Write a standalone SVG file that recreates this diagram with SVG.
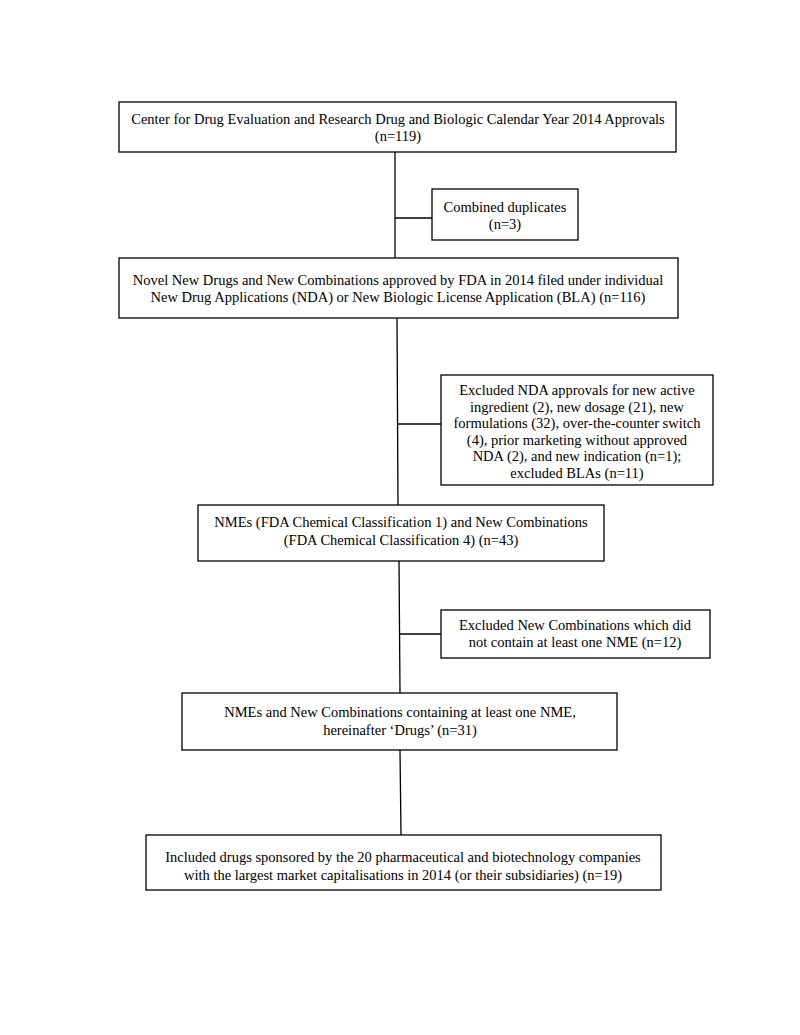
<svg xmlns="http://www.w3.org/2000/svg" width="800" height="1035" viewBox="0 0 800 1035">
<style>
.box{fill:#fff;stroke:#000;stroke-width:1.3}
.ln{stroke:#000;stroke-width:1.3;fill:none}
text{font-family:"Liberation Serif","Times New Roman",serif;font-size:14.5px;fill:#000;text-anchor:middle}
</style>
<rect width="800" height="1035" fill="#fff"/>
<g id="connectors">
<line class="ln" x1="395" y1="152" x2="395" y2="258"/>
<line class="ln" x1="395" y1="218" x2="432" y2="218"/>
<line class="ln" x1="397" y1="318" x2="398" y2="505"/>
<line class="ln" x1="397" y1="424" x2="441" y2="424"/>
<line class="ln" x1="399" y1="561" x2="400" y2="693"/>
<line class="ln" x1="399" y1="634" x2="441" y2="634"/>
<line class="ln" x1="400" y1="750" x2="401" y2="835"/>
</g>
<g id="n1">
<rect class="box" x="119" y="102" width="557" height="50"/>
<text x="398" y="124">Center for Drug Evaluation and Research Drug and Biologic Calendar Year 2014 Approvals</text>
<text x="398" y="141">(n=119)</text>
</g>
<g id="n2">
<rect class="box" x="432" y="189" width="146" height="51"/>
<text x="505" y="212">Combined duplicates</text>
<text x="505" y="229">(n=3)</text>
</g>
<g id="n3">
<rect class="box" x="119" y="258" width="559" height="60"/>
<text x="398" y="285">Novel New Drugs and New Combinations approved by FDA in 2014 filed under individual</text>
<text x="398" y="302">New Drug Applications (NDA) or New Biologic License Application (BLA) (n=116)</text>
</g>
<g id="n4">
<rect class="box" x="441" y="375" width="272" height="110"/>
<text x="577" y="395">Excluded NDA approvals for new active</text>
<text x="577" y="411.5">ingredient (2), new dosage (21), new</text>
<text x="577" y="428">formulations (32), over-the-counter switch</text>
<text x="577" y="444.5">(4), prior marketing without approved</text>
<text x="577" y="461">NDA (2), and new indication (n=1);</text>
<text x="577" y="477.5">excluded BLAs (n=11)</text>
</g>
<g id="n5">
<rect class="box" x="198" y="505" width="406" height="56"/>
<text x="401" y="527">NMEs (FDA Chemical Classification 1) and New Combinations</text>
<text x="401" y="545">(FDA Chemical Classification 4) (n=43)</text>
</g>
<g id="n6">
<rect class="box" x="441" y="610" width="269" height="48"/>
<text x="575" y="630">Excluded New Combinations which did</text>
<text x="575" y="647">not contain at least one NME (n=12)</text>
</g>
<g id="n7">
<rect class="box" x="182" y="693" width="435" height="57"/>
<text x="400" y="717">NMEs and New Combinations containing at least one NME,</text>
<text x="400" y="735">hereinafter ‘Drugs’ (n=31)</text>
</g>
<g id="n8">
<rect class="box" x="146" y="835" width="515" height="55"/>
<text x="403" y="862">Included drugs sponsored by the 20 pharmaceutical and biotechnology companies</text>
<text x="403" y="880">with the largest market capitalisations in 2014 (or their subsidiaries) (n=19)</text>
</g>
</svg>
